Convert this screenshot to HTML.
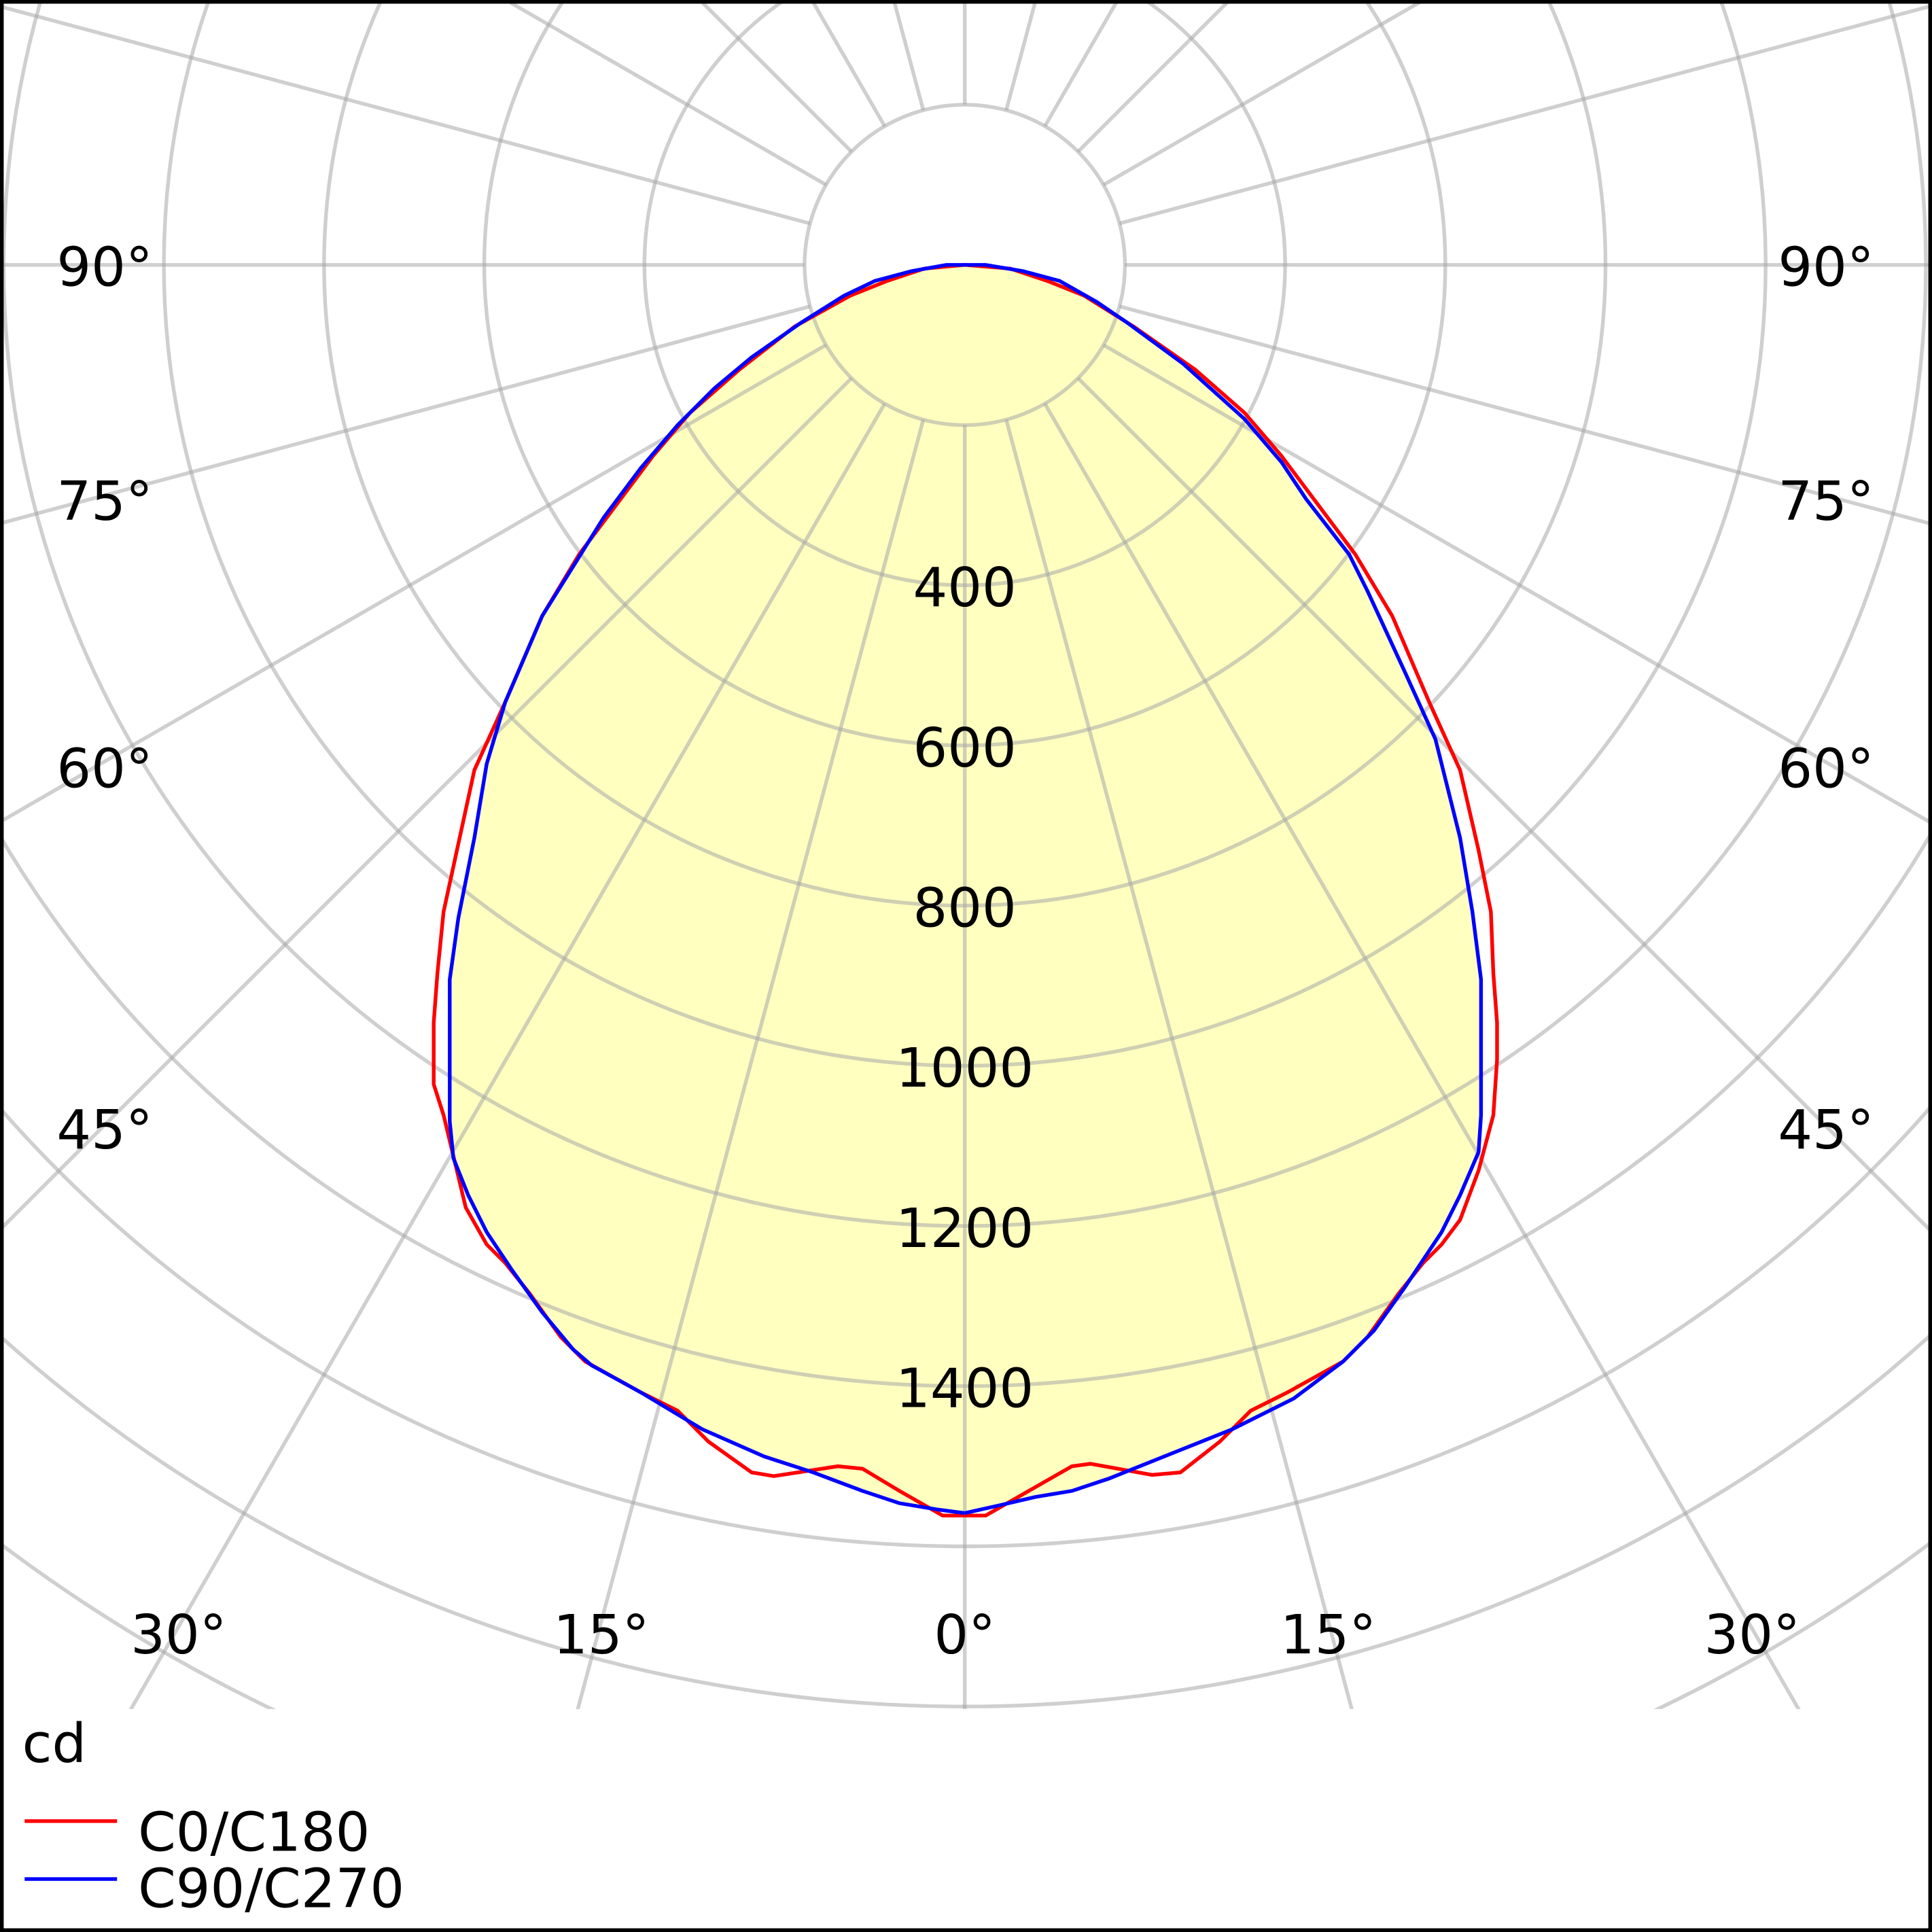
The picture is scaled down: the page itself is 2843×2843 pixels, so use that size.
<!DOCTYPE html>
<html><head><style>html,body{margin:0;padding:0;background:#fff;width:2843px;height:2843px;overflow:hidden}svg{display:block}</style></head>
<body>
<svg width="2843" height="2843" viewBox="0 0 1568 1568" xmlns="http://www.w3.org/2000/svg" font-family="DejaVu Sans, Liberation Sans, sans-serif">
<defs><clipPath id="c"><rect x="3" y="3" width="1562" height="1384"/></clipPath></defs>
<rect width="1568" height="1568" fill="#fff"/>
<g clip-path="url(#c)">
<path fill="#ffffc0" d="M783,1228 810,1222 840,1215 870,1210 900,1200 950,1180 1000,1160 1050,1135 1090,1105 1115,1080 1140,1045 1170,1000 1185,970 1200,935 1202,905 1202,795 1195,740 1185,680 1165,600 1140,545 1110,480 1095,450 1060,405 1040,375 1010,340 960,295 915,262 890,245 860,228 830,220 800,215 768,215 740,220 710,228 685,240 650,262 610,290 580,315 550,345 520,380 490,420 465,460 440,500 410,570 395,620 385,680 372,745 365,795 365,910 368,940 380,970 395,1000 415,1030 440,1065 465,1095 480,1108 520,1130 570,1160 620,1182 660,1195 700,1210 730,1220 760,1225Z"/>
<g fill="none" stroke="#a8a8a8" stroke-opacity="0.55" stroke-width="3">
<circle cx="783" cy="215" r="130"/><circle cx="783" cy="215" r="260"/><circle cx="783" cy="215" r="390"/><circle cx="783" cy="215" r="520"/><circle cx="783" cy="215" r="650"/><circle cx="783" cy="215" r="780"/><circle cx="783" cy="215" r="910"/><circle cx="783" cy="215" r="1040"/><circle cx="783" cy="215" r="1170"/><circle cx="783" cy="215" r="1300"/><circle cx="783" cy="215" r="1430"/>
<g transform="translate(783,215)">
<line x1="0" y1="130" x2="0" y2="3000"/>
<line x1="0" y1="130" x2="0" y2="3000" transform="rotate(15)"/>
<line x1="0" y1="130" x2="0" y2="3000" transform="rotate(30)"/>
<line x1="0" y1="130" x2="0" y2="3000" transform="rotate(45)"/>
<line x1="0" y1="130" x2="0" y2="3000" transform="rotate(60)"/>
<line x1="0" y1="130" x2="0" y2="3000" transform="rotate(75)"/>
<line x1="0" y1="130" x2="0" y2="3000" transform="rotate(90)"/>
<line x1="0" y1="130" x2="0" y2="3000" transform="rotate(105)"/>
<line x1="0" y1="130" x2="0" y2="3000" transform="rotate(120)"/>
<line x1="0" y1="130" x2="0" y2="3000" transform="rotate(135)"/>
<line x1="0" y1="130" x2="0" y2="3000" transform="rotate(150)"/>
<line x1="0" y1="130" x2="0" y2="3000" transform="rotate(165)"/>
<line x1="0" y1="130" x2="0" y2="3000" transform="rotate(180)"/>
<line x1="0" y1="130" x2="0" y2="3000" transform="rotate(195)"/>
<line x1="0" y1="130" x2="0" y2="3000" transform="rotate(210)"/>
<line x1="0" y1="130" x2="0" y2="3000" transform="rotate(225)"/>
<line x1="0" y1="130" x2="0" y2="3000" transform="rotate(240)"/>
<line x1="0" y1="130" x2="0" y2="3000" transform="rotate(255)"/>
<line x1="0" y1="130" x2="0" y2="3000" transform="rotate(270)"/>
<line x1="0" y1="130" x2="0" y2="3000" transform="rotate(285)"/>
<line x1="0" y1="130" x2="0" y2="3000" transform="rotate(300)"/>
<line x1="0" y1="130" x2="0" y2="3000" transform="rotate(315)"/>
<line x1="0" y1="130" x2="0" y2="3000" transform="rotate(330)"/>
<line x1="0" y1="130" x2="0" y2="3000" transform="rotate(345)"/>
</g>
</g>
</g>
<g fill="none" stroke-width="3" clip-path="url(#c)">
<polyline stroke="#ff0000" points="750,218 720,228 690,240 645,265 600,300 560,335 530,370 500,410 470,450 440,500 410,570 385,625 360,740 355,790 352,830 352,880 360,905 378,980 395,1010 410,1025 430,1050 455,1085 475,1105 520,1130 550,1145 575,1170 610,1195 628,1198 680,1190 700,1192 730,1210 765,1230 800,1230 835,1210 870,1190 885,1188 935,1197 958,1195 990,1170 1015,1145 1045,1130 1090,1105 1110,1085 1135,1050 1155,1025 1170,1010 1185,990 1200,950 1212,905 1215,860 1215,830 1212,790 1210,740 1200,690 1185,625 1160,570 1130,500 1100,450 1070,410 1040,370 1010,335 970,300 920,265 880,240 850,228 820,218 783,215 750,218"/>
<polyline stroke="#0000ff" points="783,1228 810,1222 840,1215 870,1210 900,1200 950,1180 1000,1160 1050,1135 1090,1105 1115,1080 1140,1045 1170,1000 1185,970 1200,935 1202,905 1202,795 1195,740 1185,680 1165,600 1140,545 1110,480 1095,450 1060,405 1040,375 1010,340 960,295 915,262 890,245 860,228 830,220 800,215 768,215 740,220 710,228 685,240 650,262 610,290 580,315 550,345 520,380 490,420 465,460 440,500 410,570 395,620 385,680 372,745 365,795 365,910 368,940 380,970 395,1000 415,1030 440,1065 465,1095 480,1108 520,1130 570,1160 620,1182 660,1195 700,1210 730,1220 760,1225 783,1228"/>
</g>
<g font-size="44" fill="#000" text-anchor="middle">
<text x="783" y="492">400</text><text x="783" y="622">600</text><text x="783" y="752">800</text><text x="783" y="882">1000</text><text x="783" y="1012">1200</text><text x="783" y="1142">1400</text>
<text x="85" y="232">90°</text><text x="1482" y="232">90°</text>
<text x="85" y="422">75°</text><text x="1482" y="422">75°</text>
<text x="85" y="639">60°</text><text x="1482" y="639">60°</text>
<text x="85" y="932">45°</text><text x="1482" y="932">45°</text>
<text x="145" y="1342">30°</text><text x="488" y="1342">15°</text><text x="783" y="1342">0°</text><text x="1078" y="1342">15°</text><text x="1422" y="1342">30°</text>
</g>
<g font-size="44" fill="#000">
<text x="18" y="1430">cd</text>
<text x="112" y="1502">C0/C180</text>
<text x="112" y="1548">C90/C270</text>
</g>
<line x1="20" y1="1478" x2="95" y2="1478" stroke="#ff0000" stroke-width="3"/>
<line x1="20" y1="1525" x2="95" y2="1525" stroke="#0000ff" stroke-width="3"/>
<rect x="1.5" y="1.5" width="1565" height="1565" fill="none" stroke="#000" stroke-width="3"/>
</svg>
</body></html>
